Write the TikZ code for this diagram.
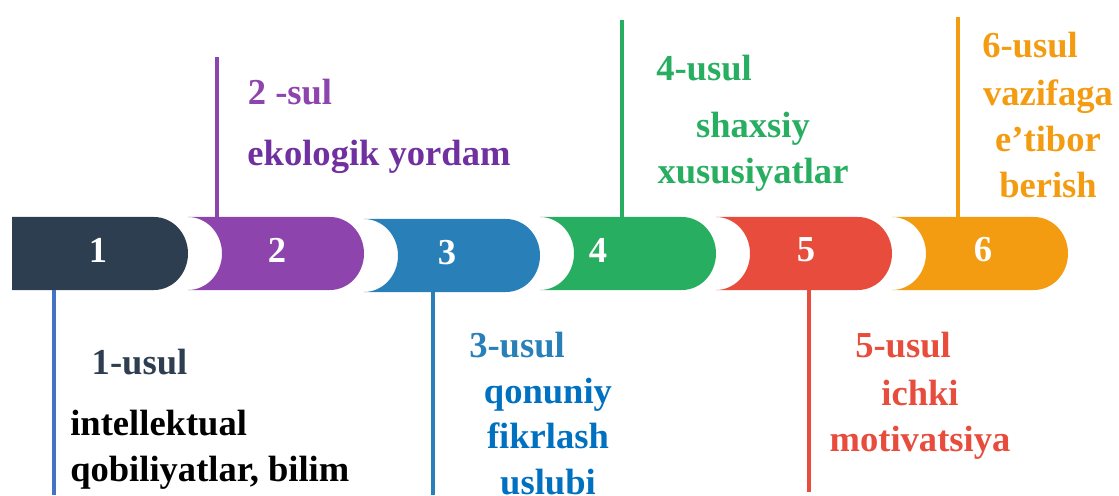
\documentclass[tikz,border=0pt]{standalone}
\usepackage{fontspec}
\setmainfont{Liberation Serif}
\usetikzlibrary{positioning}

\definecolor{cdark}{HTML}{2C3E50}
\definecolor{cpurple}{HTML}{8E44AD}
\definecolor{cplum}{HTML}{7030A0}
\definecolor{cblue}{HTML}{2980B9}
\definecolor{cdeep}{HTML}{0070C0}
\definecolor{cline}{HTML}{4472C4}
\definecolor{cgreen}{HTML}{27AE60}
\definecolor{cred}{HTML}{E74C3C}
\definecolor{corange}{HTML}{F39C12}

\begin{document}
\begin{tikzpicture}[x=0.025cm,y=0.025cm,
  txt/.style={font=\bfseries\fontsize{26}{32.5}\selectfont, inner sep=0pt, align=center},
  num/.style={txt, text=white},
  stem/.style={line width=2.9pt}]
\useasboundingbox (0,0) rectangle (1119,495);

% the six segments
\fill[cdark] (12,278) -- (154,278) arc[start angle=90,end angle=-90,x radius=34,y radius=36.5] -- (12,205) -- cycle;
\foreach \l/\y/\col in {188/278/cpurple, 364/276/cblue, 540/278/cgreen, 716/278/cred, 892/278/corange}
  \fill[\col] (\l,\y) -- ++(142,0) arc[start angle=90,end angle=-90,x radius=34,y radius=36.5]
    -- ++(-142,0) arc[start angle=-90,end angle=90,x radius=34,y radius=36.5] -- cycle;

\foreach \i/\x/\y in {1/98/245, 2/277/245, 3/447/242, 4/598/245, 5/806/245, 6/983/245}
  \node[num] (n\i) at (\x,\y) {\i};

% stems
\coordinate (s1) at (54,205);  \coordinate (e1) at (54,0);
\coordinate (s2) at (217,278); \coordinate (e2) at (217,438);
\coordinate (s3) at (433,203); \coordinate (e3) at (433,0);
\coordinate (s4) at (622,278); \coordinate (e4) at (622,475);
\coordinate (s5) at (809,205); \coordinate (e5) at (809,3);
\coordinate (s6) at (958,278); \coordinate (e6) at (958,478);
\draw[stem, cline] (s1) -- (e1);
\draw[stem, cpurple] (s2) -- (e2);
\draw[stem, cblue] (s3) -- (e3);
\draw[stem, cgreen] (s4) -- (e4);
\draw[stem, cred] (s5) -- (e5);
\draw[stem, corange] (s6) -- (e6);

% labels
\node[txt, text=cdark] (u1) at (139.5,133) {1-usul};
\node[txt, align=left, anchor=west] (d1) at (70,45) {intellektual\\qobiliyatlar, bilim};
\node[txt, text=cpurple] (u2) at (290,403) {2 -sul};
\node[txt, text=cplum] (d2) at (379,338) {ekologik yordam};
\node[txt, text=cblue] (u3) at (517,150) {3-usul};
\node[txt, text=cdeep] (d3) at (548,58.5) {qonuniy\\fikrlash\\uslubi};
\node[txt, text=cgreen] (u4) at (704,427) {4-usul};
\node[txt, text=cgreen] (d4) at (753,343) {shaxsiy\\xususiyatlar};
\node[txt, text=cred] (u5) at (903,150) {5-usul};
\node[txt, text=cred] (d5) at (920,75.5) {ichki\\motivatsiya};
\node[txt, text=corange] (u6) at (1030,450) {6-usul};
\node[txt, text=corange] (d6) at (1048,356) {vazifaga\\e’tibor\\berish};

\end{tikzpicture}
\end{document}
